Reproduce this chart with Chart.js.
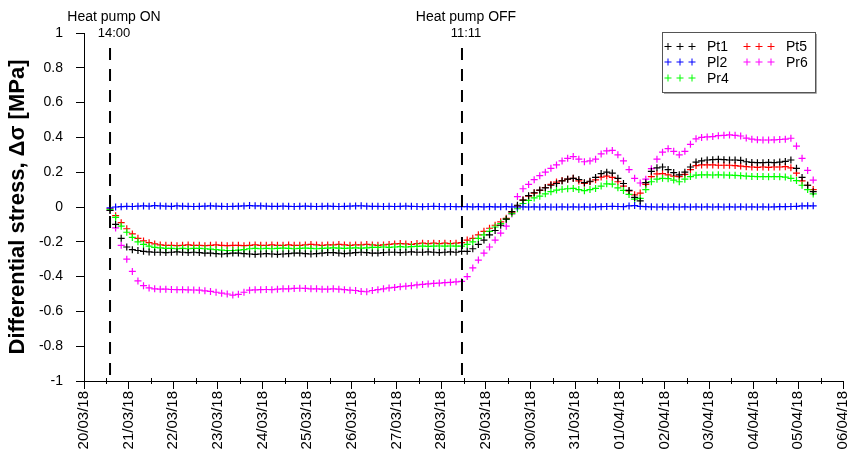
<!DOCTYPE html>
<html><head><meta charset="utf-8">
<script src="https://cdn.jsdelivr.net/npm/chart.js@4.4.0/dist/chart.umd.min.js"></script>
<style>html,body{margin:0;padding:0;background:#fff}#wrap{width:850px;height:454px}</style>
</head><body><div id="wrap"><canvas id="c" width="850" height="454"></canvas></div>
<script>
// x = days since 20/03/18 00:00; readings every 3 h from 20/03/18 14:00
const startDay = 0.583;
const stepDays = 0.125;

const pt1 = [-0.02,-0.10,-0.18,-0.23,-0.245,-0.25,-0.255,-0.258,-0.26,-0.26,-0.262,
 -0.26,-0.258,-0.26,-0.262,-0.26,
 -0.262,-0.265,-0.265,-0.268,-0.27,-0.268,-0.265,-0.265,
 -0.268,-0.27,-0.272,-0.27,-0.268,-0.27,-0.272,-0.27,
 -0.268,-0.265,-0.265,-0.268,-0.27,-0.268,-0.265,-0.262,
 -0.262,-0.265,-0.268,-0.265,-0.262,-0.26,-0.262,-0.265,
 -0.265,-0.262,-0.26,-0.26,-0.262,-0.26,-0.258,-0.26,
 -0.26,-0.258,-0.26,-0.262,-0.26,-0.258,-0.26,-0.255,
 -0.255,-0.24,-0.215,-0.19,-0.16,-0.135,-0.105,-0.07,
 -0.027,0.01,0.04,0.065,0.082,0.097,0.11,0.125,
 0.135,0.15,0.16,0.165,0.158,0.14,0.148,0.17,
 0.192,0.2,0.195,0.165,0.135,0.095,0.055,0.035,
 0.14,0.205,0.225,0.23,0.215,0.198,0.185,0.2,
 0.23,0.258,0.265,0.27,0.272,0.274,0.272,0.27,
 0.27,0.268,0.26,0.256,0.255,0.255,0.256,0.255,
 0.258,0.262,0.27,0.222,0.17,0.125,0.088];

const pl2 = [-0.005,0,0.002,0.004,0.003,0.005,0.006,0.005,0.008,0.006,0.005,0.004,0.006,0.005,0.004,0.003,
 0.004,0.005,0.006,0.005,0.004,0.003,0.004,0.005,0.006,0.008,0.007,0.006,0.005,0.004,0.004,0.005,
 0.004,0.003,0.004,0.005,0.004,0.003,0.004,0.005,0.004,0.003,0.004,0.005,0.006,0.007,0.005,0.004,
 0.004,0.003,0.004,0.003,0.004,0.005,0.004,0.003,0.002,0.003,0.004,0.003,0.002,0.003,0.002,0.002,
 0.002,0.001,0.002,0.001,0.002,0.001,0.001,0.002,0.001,0,0.001,0,0.001,0,0.001,0,
 0,0.001,0,0.001,0,0.001,0,0.001,0.002,0.003,0.004,0.003,0.002,0.006,0.008,0.004,
 0.002,0.001,0,0.001,0,0.001,0,0.001,0,0.001,0,0.001,0,0.001,0,0.001,
 0,0.001,0,0.001,0,0.001,0,0.001,0.002,0.002,0.003,0.004,0.006,0.007,0.007];

const pr4 = [-0.015,-0.06,-0.11,-0.145,-0.175,-0.2,-0.215,-0.225,-0.232,-0.235,-0.238,
 -0.238,-0.24,-0.238,-0.24,-0.238,
 -0.238,-0.24,-0.242,-0.245,-0.248,-0.25,-0.25,-0.248,
 -0.245,-0.24,-0.238,-0.24,-0.238,-0.24,-0.238,-0.236,
 -0.238,-0.24,-0.238,-0.236,-0.238,-0.24,-0.238,-0.236,
 -0.235,-0.236,-0.238,-0.236,-0.235,-0.236,-0.235,-0.232,
 -0.232,-0.23,-0.232,-0.23,-0.228,-0.23,-0.228,-0.226,
 -0.225,-0.226,-0.225,-0.224,-0.225,-0.224,-0.225,-0.225,
 -0.215,-0.2,-0.18,-0.16,-0.14,-0.115,-0.095,-0.07,
 -0.038,-0.01,0.02,0.038,0.052,0.062,0.076,0.088,
 0.097,0.102,0.105,0.107,0.1,0.094,0.1,0.107,
 0.12,0.133,0.132,0.11,0.095,0.072,0.045,0.05,
 0.1,0.145,0.16,0.165,0.163,0.155,0.145,0.16,
 0.175,0.183,0.185,0.185,0.184,0.185,0.184,0.183,
 0.182,0.18,0.178,0.176,0.175,0.175,0.174,0.175,
 0.174,0.172,0.165,0.152,0.125,0.1,0.075];

const pt5 = [-0.01,-0.05,-0.09,-0.125,-0.155,-0.18,-0.195,-0.205,-0.212,-0.218,-0.22,
 -0.22,-0.222,-0.22,-0.218,-0.22,
 -0.22,-0.222,-0.22,-0.218,-0.22,-0.222,-0.22,-0.22,
 -0.222,-0.22,-0.218,-0.22,-0.22,-0.218,-0.22,-0.22,
 -0.218,-0.22,-0.22,-0.218,-0.215,-0.218,-0.22,-0.218,
 -0.218,-0.215,-0.218,-0.22,-0.218,-0.218,-0.215,-0.218,
 -0.22,-0.218,-0.215,-0.212,-0.21,-0.212,-0.215,-0.21,
 -0.208,-0.21,-0.208,-0.21,-0.208,-0.21,-0.208,-0.205,
 -0.19,-0.18,-0.16,-0.14,-0.122,-0.105,-0.085,-0.065,
 -0.03,0.005,0.04,0.062,0.08,0.095,0.112,0.13,
 0.143,0.152,0.16,0.165,0.15,0.136,0.145,0.156,
 0.172,0.178,0.17,0.145,0.12,0.092,0.07,0.08,
 0.13,0.175,0.19,0.192,0.185,0.178,0.174,0.188,
 0.215,0.238,0.242,0.242,0.242,0.24,0.24,0.24,
 0.238,0.235,0.232,0.23,0.228,0.23,0.228,0.23,
 0.23,0.232,0.225,0.195,0.15,0.125,0.1];

const pr6 = [-0.02,-0.12,-0.22,-0.3,-0.37,-0.425,-0.452,-0.465,-0.47,-0.472,-0.472,
 -0.474,-0.475,-0.475,-0.476,-0.477,
 -0.478,-0.482,-0.485,-0.49,-0.495,-0.5,-0.506,-0.502,
 -0.49,-0.478,-0.476,-0.475,-0.474,-0.475,-0.472,-0.47,
 -0.47,-0.468,-0.467,-0.468,-0.47,-0.47,-0.472,-0.472,
 -0.47,-0.472,-0.475,-0.478,-0.48,-0.485,-0.487,-0.48,
 -0.475,-0.47,-0.465,-0.462,-0.458,-0.455,-0.452,-0.448,
 -0.445,-0.442,-0.439,-0.437,-0.435,-0.433,-0.43,-0.428,
 -0.4,-0.35,-0.305,-0.265,-0.23,-0.19,-0.15,-0.11,
 -0.04,0.06,0.105,0.13,0.157,0.18,0.2,0.222,
 0.242,0.265,0.28,0.29,0.275,0.26,0.265,0.275,
 0.305,0.322,0.325,0.3,0.265,0.215,0.165,0.138,
 0.16,0.22,0.275,0.315,0.335,0.32,0.3,0.32,
 0.36,0.392,0.4,0.403,0.405,0.41,0.412,0.414,
 0.412,0.408,0.396,0.39,0.386,0.385,0.385,0.386,
 0.388,0.39,0.395,0.35,0.28,0.21,0.155];

const seriesNames = ['Pt1','Pl2','Pr4','Pt5','Pr6'];
const seriesValues = [pt1, pl2, pr4, pt5, pr6];
const seriesColors = ['#000000','#0000ff','#00ff00','#ff0000','#ff00ff'];

const xTickDays = [0,1,2,3,4,5,6,7,8,9,10,11,12,13,14,15,16,17];
const dateLabels = ['20/03/18','21/03/18','22/03/18','23/03/18','24/03/18','25/03/18','26/03/18','27/03/18','28/03/18',
  '29/03/18','30/03/18','31/03/18','01/04/18','02/04/18','03/04/18','04/04/18','05/04/18','06/04/18'];
const yTicks = [1,0.8,0.6,0.4,0.2,0,-0.2,-0.4,-0.6,-0.8,-1];
const yTickLabels = ['1','0.8','0.6','0.4','0.2','0','-0.2','-0.4','-0.6','-0.8','-1'];

const eventDays = [0.583, 8.466];
const eventTitles = ['Heat pump ON','Heat pump OFF'];
const eventTimes = ['14:00','11:11'];

const FONT = "'Liberation Sans', Arial, sans-serif";

const datasets = seriesNames.map((name, s) => ({
  label: name,
  data: seriesValues[s].map((v, i) => ({x: startDay + i * stepDays, y: v})),
  pointStyle: 'cross',
  pointRadius: 3.5,
  pointHoverRadius: 3.5,
  borderWidth: 1.2,
  borderColor: seriesColors[s],
  backgroundColor: seriesColors[s],
  showLine: false
}));

const extras = {
  id: 'extras',
  afterDraw(chart) {
    const ctx = chart.ctx;
    const xs = chart.scales.x;
    const area = chart.chartArea;
    ctx.save();
    // minor x ticks at half days
    ctx.strokeStyle = '#000'; ctx.lineWidth = 1;
    for (let i = 0; i < xTickDays.length - 1; i++) {
      const px = Math.round(xs.getPixelForValue(xTickDays[i] + 0.5)) + 0.5;
      ctx.beginPath(); ctx.moveTo(px, area.bottom - 3); ctx.lineTo(px, area.bottom + 3); ctx.stroke();
    }
    // event lines
    ctx.setLineDash([12, 9]); ctx.lineWidth = 2;
    eventDays.forEach(d => {
      const px = xs.getPixelForValue(d);
      ctx.beginPath(); ctx.moveTo(px, 48); ctx.lineTo(px, area.bottom); ctx.stroke();
    });
    ctx.setLineDash([]);
    ctx.fillStyle = '#000'; ctx.textAlign = 'center'; ctx.textBaseline = 'middle';
    eventDays.forEach((d, i) => {
      const px = xs.getPixelForValue(d);
      ctx.font = '14px ' + FONT;
      ctx.fillText(eventTitles[i], px + 4, 17);
      ctx.font = '13px ' + FONT;
      ctx.fillText(eventTimes[i], px + 4, 33);
    });
    // legend
    const bx = 662, by = 32, bw = 153, bh = 60;
    ctx.fillStyle = '#fff'; ctx.fillRect(bx, by, bw, bh);
    ctx.strokeStyle = '#555'; ctx.lineWidth = 1;
    ctx.strokeRect(bx + 0.5, by + 0.5, bw, bh);
    ctx.strokeStyle = '#aaa';
    ctx.beginPath(); ctx.moveTo(bx + bw + 1.5, by + 2); ctx.lineTo(bx + bw + 1.5, by + bh + 1.5); ctx.lineTo(bx + 2, by + bh + 1.5); ctx.stroke();
    const cols = [[0,1,2],[3,4]];
    const colX = [668, 747];
    const rowY = [46.5, 62, 78];
    ctx.font = '14px ' + FONT; ctx.textAlign = 'left'; ctx.textBaseline = 'middle';
    cols.forEach((col, c) => col.forEach((s, r) => {
      const ds = chart.data.datasets[s];
      ctx.strokeStyle = ds.borderColor; ctx.lineWidth = 1;
      for (let k = 0; k < 3; k++) {
        const cx = colX[c] + k * 12, cy = rowY[r];
        ctx.beginPath();
        ctx.moveTo(cx - 3.5, cy); ctx.lineTo(cx + 3.5, cy);
        ctx.moveTo(cx, cy - 3.5); ctx.lineTo(cx, cy + 3.5);
        ctx.stroke();
      }
      ctx.fillStyle = '#000';
      ctx.fillText(ds.label, colX[c] + 39, rowY[r] + 1);
    }));
    ctx.restore();
  }
};

new Chart(document.getElementById('c'), {
  type: 'scatter',
  data: { datasets },
  options: {
    responsive: false,
    animation: false,
    devicePixelRatio: 1,
    layout: { padding: { top: 33, right: 0, bottom: 0, left: 0 } },
    plugins: { legend: { display: false }, tooltip: { enabled: false } },
    scales: {
      x: {
        type: 'linear', min: 0, max: 17,
        afterBuildTicks: s => { s.ticks = xTickDays.map(v => ({value: v})); },
        afterFit: s => { s.height = 73; s.paddingRight = 7; s.paddingLeft = 0; },
        grid: { display: true, drawOnChartArea: false, drawTicks: true, tickLength: 8, color: '#000', tickColor: '#000' },
        border: { display: true, color: '#000', width: 1 },
        ticks: {
          autoSkip: false, minRotation: 90, maxRotation: 90, padding: 2, color: '#000',
          font: { family: FONT, size: 15 },
          callback: (v) => { const i = xTickDays.indexOf(v); return i >= 0 ? dateLabels[i] : ''; }
        }
      },
      y: {
        type: 'linear', min: -1, max: 1,
        afterBuildTicks: s => { s.ticks = yTicks.map(v => ({value: v})); },
        afterFit: s => { s.width = 84; },
        grid: { display: true, drawOnChartArea: false, drawTicks: true, tickLength: 8, color: '#000', tickColor: '#000' },
        border: { display: true, color: '#000', width: 1 },
        ticks: {
          padding: 13, color: '#000', font: { family: FONT, size: 14 },
          callback: (v) => { const i = yTicks.indexOf(v); return i >= 0 ? yTickLabels[i] : ''; }
        },
        title: {
          display: true, text: 'Differential stress, Δσ [MPa]', color: '#000',
          font: { family: FONT, size: 22, weight: 'bold' }, padding: { top: 5, bottom: 0 }
        }
      }
    }
  },
  plugins: [extras]
});
</script></body></html>
